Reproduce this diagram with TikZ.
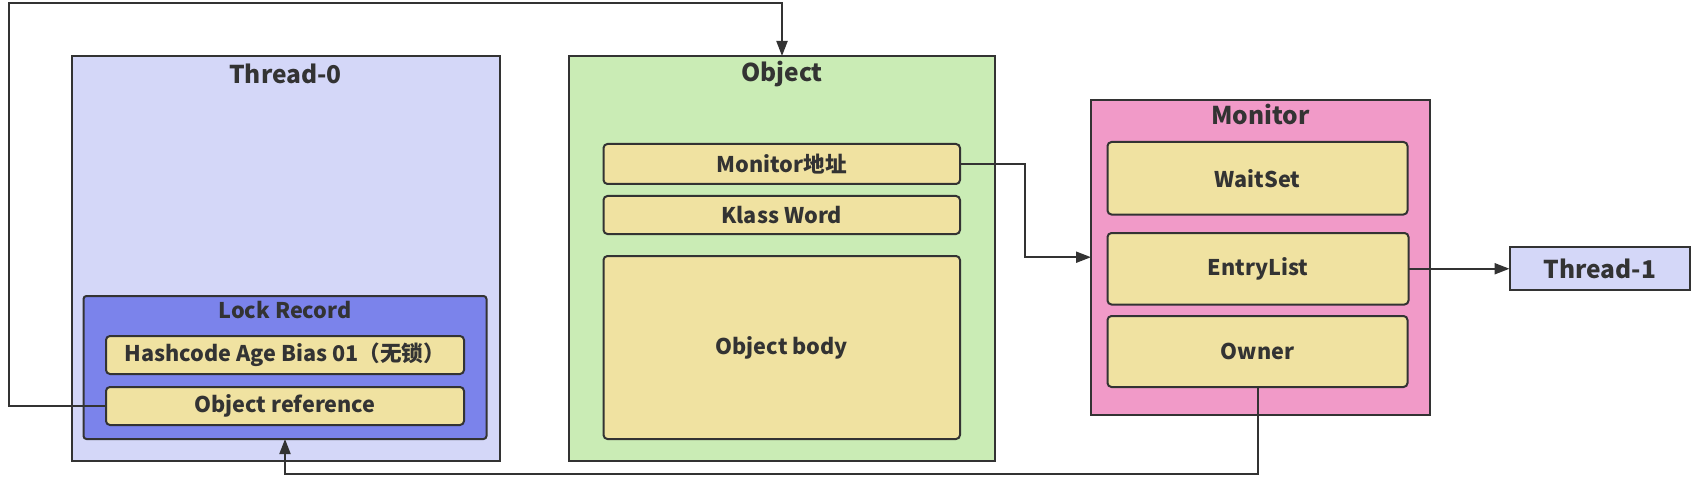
\documentclass[tikz,border=0pt]{standalone}
\usepackage{fontspec}
\setmainfont{Noto Sans CJK SC}
\usetikzlibrary{arrows.meta}
\definecolor{lineC}{HTML}{333333}
\definecolor{textC}{HTML}{333333}
\definecolor{threadC}{HTML}{D4D7F8}
\definecolor{lockC}{HTML}{7B83EB}
\definecolor{cellC}{HTML}{F0E2A1}
\definecolor{objC}{HTML}{CAECB5}
\definecolor{monC}{HTML}{F19AC8}
\begin{document}
\begin{tikzpicture}[x=1pt,y=-1pt,
  every node/.style={inner sep=0pt, outer sep=0pt, text=textC},
  outerbox/.style={draw=lineC, line width=2pt, rectangle, anchor=north west},
  cellbox/.style={draw=lineC, line width=2pt, fill=cellC, rounded corners=4pt, rectangle, anchor=north west},
  titletext/.style={anchor=center, font=\fontsize{24.5}{28}\selectfont\bfseries},
  itemtext/.style={anchor=center, font=\fontsize{21.6}{26}\selectfont\bfseries},
  arr/.style={draw=lineC, line width=2pt, -{Triangle[length=15pt,width=11pt]}}]
\path[fill=white] (0,0) rectangle (1699,481);
\useasboundingbox (0,0) rectangle (1699,481);

% Thread-0
\node[outerbox, fill=threadC, minimum width=428pt, minimum height=404.5pt] (t0) at (71.5,56) {};
\node[titletext] (t0title) at (285.5,74) {Thread-0};
\node[outerbox, fill=lockC, rounded corners=3pt, minimum width=403pt, minimum height=143pt] (lr) at (83.5,296) {};
\node[itemtext] (lrtitle) at (285,310) {Lock Record};
\node[cellbox, minimum width=358pt, minimum height=38pt] (hash) at (106,336) {};
\node[itemtext] (hashtext) at (hash.center) {Hashcode Age Bias 01（无锁）};
\node[cellbox, minimum width=358pt, minimum height=38pt] (objref) at (106,387) {};
\node[itemtext] (objreftext) at (objref.center) {Object reference};

% Object
\node[outerbox, fill=objC, minimum width=426pt, minimum height=404.5pt] (obj) at (569,56) {};
\node[titletext] (objtitle) at (782,74) {Object};
\node[cellbox, minimum width=356.5pt, minimum height=40pt] (ma) at (603.5,144) {};
\node[itemtext] (matext) at (ma.center) {Monitor地址};
\node[cellbox, minimum width=356.5pt, minimum height=38pt] (kw) at (603.5,196) {};
\node[itemtext] (kwtext) at (kw.center) {Klass Word};
\node[cellbox, minimum width=356.5pt, minimum height=183pt] (ob) at (603.5,256) {};
\node[itemtext] (obtext) at (ob.center) {Object body};

% Monitor
\node[outerbox, fill=monC, minimum width=339pt, minimum height=315pt] (mon) at (1091,99.7) {};
\node[titletext] (montitle) at (1260.5,114) {Monitor};
\node[cellbox, minimum width=300pt, minimum height=72.5pt] (ws) at (1107.5,142) {};
\node[itemtext] (wstext) at (ws.center) {WaitSet};
\node[cellbox, minimum width=301pt, minimum height=71.5pt] (el) at (1107.5,233) {};
\node[itemtext] (eltext) at (el.center) {EntryList};
\node[cellbox, minimum width=300pt, minimum height=71pt] (own) at (1107.5,316) {};
\node[itemtext] (owntext) at (own.center) {Owner};

% Thread-1
\node[outerbox, fill=threadC, minimum width=180.5pt, minimum height=43pt] (t1) at (1509.5,247.25) {};
\node[titletext] (t1text) at (t1.center) {Thread-1};

% connectors
\coordinate (tl) at (8.7,3.3);
\coordinate (low) at (0,473.5);
\draw[arr] (objref.west) -| (tl) -| (obj.north);
\draw[arr] (ma.east) -- ++(65,0) |- (mon.west);
\draw[arr] (el.east) -- (t1.west);
\draw[arr] (own.south) -- (own.south |- low) -| (lr.south);
\end{tikzpicture}
\end{document}
